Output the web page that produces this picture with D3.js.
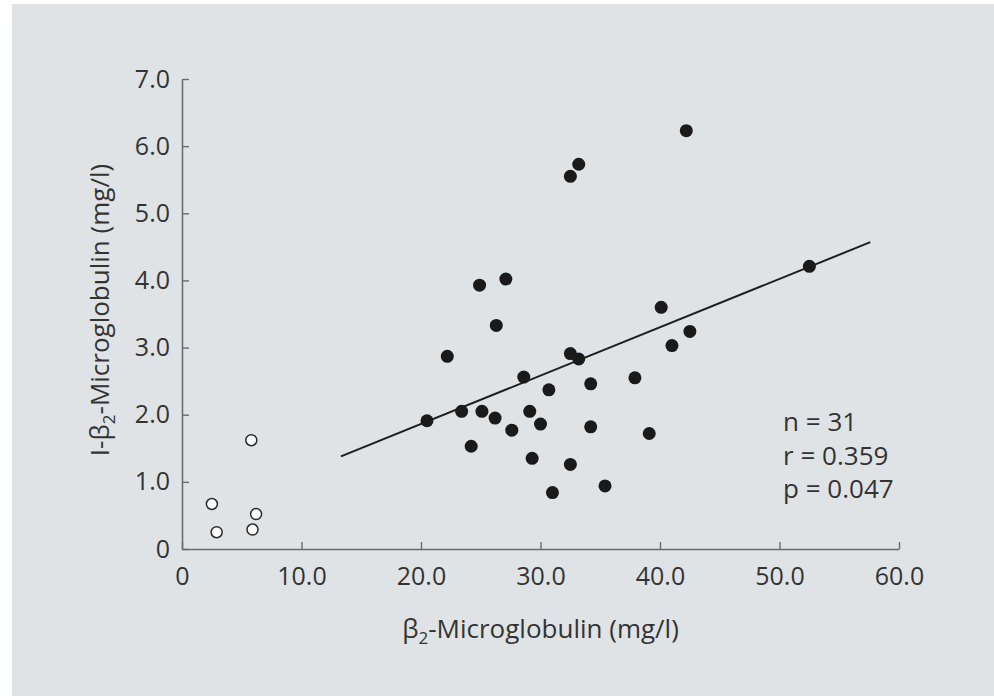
<!DOCTYPE html>
<html>
<head>
<meta charset="utf-8">
<script src="https://cdn.jsdelivr.net/npm/d3@7"></script>
<style>
  body { margin: 0; background: #ffffff; }
  svg { display: block; }
  .tick text { font-family: "Open Sans", sans-serif; }
</style>
</head>
<body>
<svg id="chart"></svg>
<script>
// Chart frame
const width = 994;
const height = 696;
const margin = { top: 79, left: 182, right: 95, bottom: 147 };
const fontSize = 25;

// Filled circles: patients (x = β2-microglobulin, y = I-β2-microglobulin)
const filledX = [42.2, 33.2, 32.5, 24.9, 27.1, 26.3, 40.1, 42.5, 41.0, 22.2,
                 32.5, 33.2, 28.6, 30.7, 34.2, 37.9, 20.5, 23.4, 25.1, 26.2,
                 29.1, 27.6, 30.0, 34.2, 39.1, 24.2, 29.3, 32.5, 35.4, 31.0, 52.5];
const filledY = [6.23, 5.73, 5.55, 3.93, 4.02, 3.33, 3.60, 3.24, 3.03, 2.87,
                 2.91, 2.83, 2.56, 2.37, 2.46, 2.55, 1.91, 2.05, 2.05, 1.95,
                 2.05, 1.77, 1.86, 1.82, 1.72, 1.53, 1.35, 1.26, 0.94, 0.84, 4.21];

// Open circles: controls
const openX = [5.8, 2.5, 2.9, 6.2, 5.9];
const openY = [1.62, 0.67, 0.25, 0.52, 0.29];

// Regression line end points
const fitX = [13.3, 57.6];
const fitY = [1.38, 4.57];

// Ticks
const xTicks = [0, 10, 20, 30, 40, 50, 60];
const yTicks = [0, 1, 2, 3, 4, 5, 6, 7];

// Statistics
const statLines = ["n = 31", "r = 0.359", "p = 0.047"];

const svg = d3.select("#chart")
  .attr("width", width)
  .attr("height", height);

// Grey panel
svg.append("rect")
  .attr("x", 12)
  .attr("y", 4)
  .attr("width", width - 12)
  .attr("height", height - 4)
  .attr("fill", "#e0e3e6");

const innerW = width - margin.left - margin.right;
const innerH = height - margin.top - margin.bottom;

const x = d3.scaleLinear().domain([0, 60]).range([0, innerW]);
const y = d3.scaleLinear().domain([0, 7]).range([innerH, 0]);

const g = svg.append("g")
  .attr("transform", "translate(" + margin.left + "," + margin.top + ")");

const fmt = (d) => d === 0 ? "0" : d3.format(".1f")(d);

// x axis
const xAxis = g.append("g")
  .attr("transform", "translate(0," + innerH + ")")
  .call(d3.axisBottom(x).tickValues(xTicks).tickFormat(fmt)
    .tickSizeInner(-7).tickSizeOuter(0).tickPadding(18));

// y axis
const yAxis = g.append("g")
  .call(d3.axisLeft(y).tickValues(yTicks).tickFormat(fmt)
    .tickSizeInner(-7).tickSizeOuter(0).tickPadding(12));

[xAxis, yAxis].forEach((a) => {
  a.select(".domain").attr("stroke", "#6b6b6b").attr("stroke-width", 1.6);
  a.selectAll(".tick line").attr("stroke", "#6b6b6b").attr("stroke-width", 1.4);
  a.selectAll(".tick text")
    .attr("fill", "#333")
    .style("font-size", fontSize + "px");
});

// Regression line
const fitData = fitX.map((d, i) => [d, fitY[i]]);
g.append("path")
  .datum(fitData)
  .attr("fill", "none")
  .attr("stroke", "#1e1e1e")
  .attr("stroke-width", 2)
  .attr("d", d3.line().x((d) => x(d[0])).y((d) => y(d[1])));

// Filled points
g.append("g").selectAll("circle")
  .data(filledX.map((d, i) => [d, filledY[i]]))
  .enter()
  .append("circle")
  .attr("cx", (d) => x(d[0]))
  .attr("cy", (d) => y(d[1]))
  .attr("r", 6.5)
  .attr("fill", "#1a1a1a");

// Open points
g.append("g").selectAll("circle")
  .data(openX.map((d, i) => [d, openY[i]]))
  .enter()
  .append("circle")
  .attr("cx", (d) => x(d[0]))
  .attr("cy", (d) => y(d[1]))
  .attr("r", 5.5)
  .attr("fill", "#ffffff")
  .attr("stroke", "#2a2a2a")
  .attr("stroke-width", 1.5);

// Statistics text
g.append("g").selectAll("text")
  .data(statLines)
  .enter()
  .append("text")
  .attr("x", x(50.3))
  .attr("y", (d, i) => y(1.87) + 8 + i * 33.5)
  .attr("fill", "#333")
  .style("font-family", "'Open Sans', sans-serif")
  .style("font-size", "26px")
  .text((d) => d);

// Axis titles with subscript 2
function beta(textSel, prefix, rest) {
  textSel.append("tspan").text(prefix + "β");
  textSel.append("tspan").attr("dy", 6).style("font-size", "17px").text("2");
  textSel.append("tspan").attr("dy", -6).text(rest);
}

const xTitle = svg.append("text")
  .attr("x", margin.left + innerW / 2)
  .attr("y", 638)
  .attr("text-anchor", "middle")
  .attr("fill", "#333")
  .style("font-family", "'Open Sans', sans-serif")
  .style("font-size", "26px");
beta(xTitle, "", "-Microglobulin (mg/l)");

const yTitle = svg.append("text")
  .attr("transform", "translate(109," + (margin.top + innerH / 2 - 4) + ") rotate(-90)")
  .attr("text-anchor", "middle")
  .attr("fill", "#333")
  .style("font-family", "'Open Sans', sans-serif")
  .style("font-size", "26px");
beta(yTitle, "I-", "-Microglobulin (mg/l)");
</script>
</body>
</html>
